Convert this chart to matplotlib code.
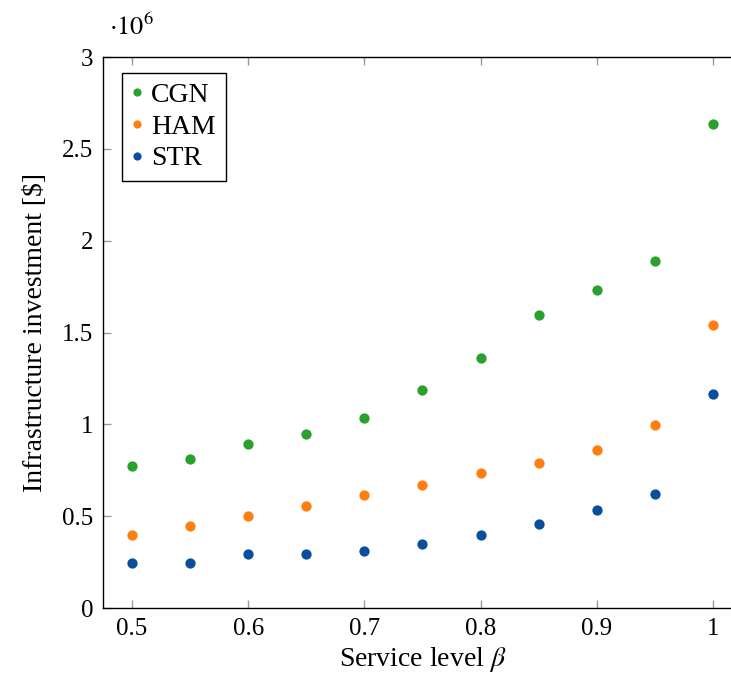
import numpy as np
import matplotlib.pyplot as plt
from matplotlib.ticker import FuncFormatter, MultipleLocator

# dane
beta = [0.5, 0.55, 0.6, 0.65, 0.7, 0.75, 0.8, 0.85, 0.9, 0.95, 1.0]
cgn = [0.775e6, 0.81e6, 0.893e6, 0.949e6, 1.036e6, 1.186e6, 1.36e6, 1.594e6, 1.732e6, 1.888e6, 2.634e6]
ham = [0.399e6, 0.447e6, 0.501e6, 0.557e6, 0.614e6, 0.672e6, 0.733e6, 0.791e6, 0.862e6, 0.995e6, 1.54e6]
str_ = [0.243e6, 0.243e6, 0.294e6, 0.294e6, 0.312e6, 0.349e6, 0.398e6, 0.459e6, 0.535e6, 0.623e6, 1.164e6]

plt.rcParams['font.family'] = ['Liberation Serif', 'DejaVu Serif']
plt.rcParams['mathtext.fontset'] = 'stix'

fig = plt.figure(figsize=(7.31, 6.78), dpi=100)
ax = fig.add_axes([0.1409, 0.1032, 0.874, 0.8127])

ax.plot(beta, cgn, 'o', color='#2ca02c', markersize=7.4, markeredgewidth=0, label='CGN')
ax.plot(beta, ham, 'o', color='#ff7f0e', markersize=7.4, markeredgewidth=0, label='HAM')
ax.plot(beta, str_, 'o', color='#0a4f9c', markersize=7.4, markeredgewidth=0, label='STR')

ax.set_xlim(0.475, 1.025)
ax.set_ylim(0, 3e6)
ax.xaxis.set_major_locator(MultipleLocator(0.1))
ax.yaxis.set_major_locator(MultipleLocator(0.5e6))
ax.xaxis.set_major_formatter(FuncFormatter(lambda v, p: '%g' % round(v, 2)))
ax.yaxis.set_major_formatter(FuncFormatter(lambda v, p: '%g' % round(v / 1e6, 2)))
ax.tick_params(direction='in', length=6, width=1, color='#999999', labelsize=18,
               top=True, right=True, pad=7)
for s in ax.spines.values():
    s.set_linewidth(1)

ax.set_xlabel(r'Service level $\beta$', fontsize=20, labelpad=4)
ax.set_ylabel('Infrastructure investment [$]', fontsize=20, labelpad=10)
ax.text(0.01, 1.03, r'$\cdot 10^6$', transform=ax.transAxes, fontsize=19, va='bottom')

leg = ax.legend(loc='upper left', bbox_to_anchor=(0.03, 0.971), fancybox=False,
                edgecolor='black', framealpha=1, borderaxespad=0, markerscale=0.8,
                handlelength=0.4, handletextpad=0.3, fontsize=20, labelspacing=0.22,
                borderpad=0.35)
leg.get_frame().set_linewidth(1)

fig.savefig('out.png', dpi=100)
